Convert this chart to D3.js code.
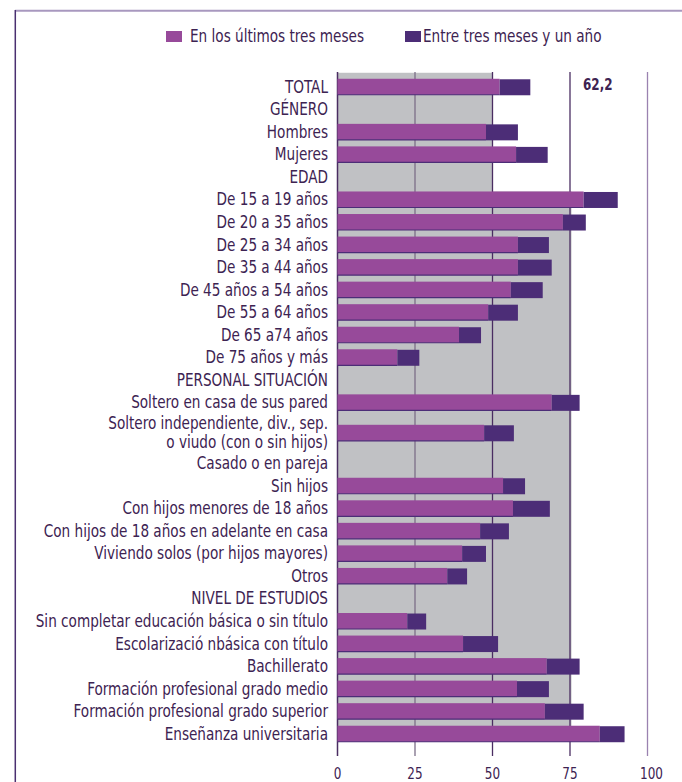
<!DOCTYPE html>
<html><head><meta charset="utf-8">
<script src="https://cdn.jsdelivr.net/npm/d3@7/dist/d3.min.js"></script>
<style>
html,body{margin:0;padding:0;background:#fff;}
svg{display:block;}
text{font-family:"DejaVu Sans Condensed","Liberation Sans Narrow","Roboto",sans-serif;fill:#3d2352;}
</style></head>
<body>
<script>
const categories = ["TOTAL","GÉNERO","Hombres","Mujeres","EDAD","De 15 a 19 años","De 20 a 35 años","De 25 a 34 años","De 35 a 44 años","De 45 años a 54 años","De 55 a 64 años","De 65 a74 años","De 75 años y más","PERSONAL SITUACIÓN","Soltero en casa de sus pared","Soltero independiente, div., sep.\no viudo (con o sin hijos)","Casado o en pareja","Sin hijos","Con hijos menores de 18 años","Con hijos de 18 años en adelante en casa","Viviendo solos (por hijos mayores)","Otros","NIVEL DE ESTUDIOS","Sin completar educación básica o sin título","Escolarizació nbásica con título","Bachillerato","Formación profesional grado medio","Formación profesional grado superior","Enseñanza universitaria"];
const lastThreeMonths = [52.3,null,47.9,57.6,null,79.4,72.7,58.2,58.2,55.9,48.6,39.2,19.3,null,69.1,47.3,null,53.4,56.6,46.0,40.2,35.4,null,22.5,40.5,67.5,57.9,66.9,84.6];
const threeMonthsToYear = [9.9,null,10.3,10.2,null,11.0,7.4,10.0,10.9,10.3,9.6,7.1,7.1,null,9.0,9.6,null,7.1,11.9,9.3,7.7,6.4,null,6.1,11.3,10.6,10.3,12.5,8.0];
const seriesNames = ["En los últimos tres meses","Entre tres meses y un año"];
const tickValues = [0,25,50,75,100];
const totalLabel = "62,2";

const W = 682, H = 782;
const colLight = "#974a9a", colDark = "#4c2d77", colGrey = "#c0c1c4";
const SX = 0.89; // horizontal condensing of text

const svg = d3.select("body").append("svg").attr("width", W).attr("height", H);

// helper: condensed text
function ctext(parent, tx, ty, str, size, anchor, weight){
  const g = parent.append("g").attr("transform", `translate(${tx},${ty}) scale(${SX},1)`);
  return g.append("text").attr("x",0).attr("y",0).attr("font-size", size)
    .attr("text-anchor", anchor||"start").attr("font-weight", weight||"normal").text(str);
}

// frame
svg.append("line").attr("x1",15).attr("x2",W).attr("y1",10.7).attr("y2",10.7).attr("stroke","#a898bf").attr("stroke-width",2);
svg.append("line").attr("x1",15.3).attr("x2",15.3).attr("y1",10).attr("y2",H).attr("stroke","#4a3070").attr("stroke-width",1.5);

// rows with variable heights (two-line label gets more room)
const weights = categories.map(c => 1 + 0.7*(c.split("\n").length-1));
const cum = [0]; weights.forEach(w => cum.push(cum[cum.length-1]+w));
const yU = d3.scaleLinear().domain([0, cum[cum.length-1]]).range([75.5, 745]);
const rowC = i => yU(cum[i] + weights[i]/2);
const barH = 16;

const x = d3.scaleLinear().domain([0,100]).range([337.5, 647.5]);

const gridTop = 72, gridBottom = 756;
const lastBarBottom = rowC(categories.length-1) + barH/2;
const firstBarTop = rowC(0) - barH/2;
const ageStart = categories.indexOf("De 15 a 19 años");

// grey panels
svg.append("rect").attr("x", x(0)).attr("y", firstBarTop-6).attr("width", x(50)-x(0)).attr("height", lastBarBottom-(firstBarTop-6)).attr("fill", colGrey);
svg.append("rect").attr("x", x(50)).attr("y", rowC(ageStart)-barH/2).attr("width", x(75)-x(50)+1.5).attr("height", lastBarBottom-(rowC(ageStart)-barH/2)).attr("fill", colGrey);

// gridlines
const gridCol = {0:"#4a2d62",25:"#7c6f88",50:"#4a2d62",75:"#4a2d62",100:"#9a82b0"};
svg.append("g").selectAll("line").data(tickValues).join("line")
  .attr("x1", d=>x(d)).attr("x2", d=>x(d)).attr("y1", gridTop).attr("y2", gridBottom)
  .attr("stroke", d=>gridCol[d]).attr("stroke-width", d=> d===0?1.5:1.3);

// bars
const rows = categories.map((c,i)=>({c,i,a:lastThreeMonths[i],b:threeMonthsToYear[i]})).filter(d=>d.a!=null);
const gb = svg.append("g");
gb.selectAll("rect.a").data(rows).join("rect").attr("class","a")
  .attr("x", x(0)).attr("y", d=>rowC(d.i)-barH/2).attr("width", d=>x(d.a)-x(0)).attr("height", barH).attr("fill", colLight);
gb.selectAll("rect.b").data(rows).join("rect").attr("class","b")
  .attr("x", d=>x(d.a)).attr("y", d=>rowC(d.i)-barH/2+0.5).attr("width", d=>x(d.a+d.b)-x(d.a)).attr("height", barH).attr("fill", colDark);
gb.selectAll("line.u").data(rows).join("line").attr("class","u")
  .attr("x1", x(0)).attr("x2", d=>x(d.a)).attr("y1", d=>rowC(d.i)+barH/2).attr("y2", d=>rowC(d.i)+barH/2)
  .attr("stroke", colDark).attr("stroke-width", 1.2);

// category labels
const gl = svg.append("g");
const lineGap = 19;
categories.forEach((c,i)=>{
  const lines = c.split("\n");
  lines.forEach((l,k)=>{
    ctext(gl, 328, rowC(i) - (lines.length-1)*lineGap/2 + k*lineGap + 6, l, 17, "end");
  });
});

// total label
ctext(svg, 583, 90, totalLabel, 15, "start", "bold");

// axis tick labels
tickValues.forEach(d=>{
  ctext(svg, x(d) + (d===100?4:0), 779, String(d), 15, "middle");
});

// legend
const legX = [166, 405];
seriesNames.forEach((s,k)=>{
  svg.append("rect").attr("x", legX[k]).attr("y", 31).attr("width", 16).attr("height", 11).attr("fill", k===0?colLight:colDark);
  ctext(svg, legX[k]+(k===0?24:18), 42, s, 17, "start");
});
</script>
</body></html>
